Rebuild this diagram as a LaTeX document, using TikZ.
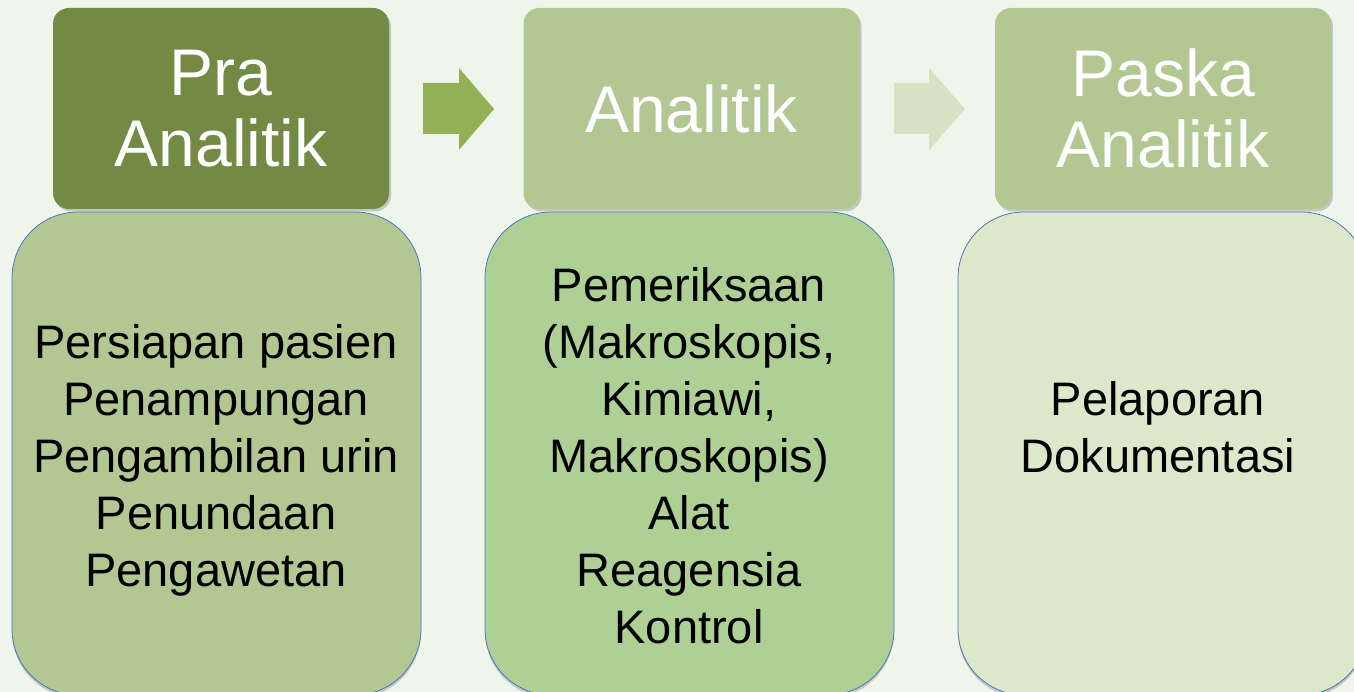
\documentclass[tikz,border=0pt]{standalone}
\usepackage{fontspec}
\setmainfont{Liberation Sans}
\usetikzlibrary{shadows}
\definecolor{bgc}{HTML}{EFF5EB}
\definecolor{headdark}{HTML}{738A44}
\definecolor{headlight}{HTML}{B3C792}
\definecolor{bodyone}{HTML}{B3C792}
\definecolor{bodytwo}{HTML}{AFD095}
\definecolor{bodythree}{HTML}{DDE7C9}
\definecolor{arrowone}{HTML}{93B056}
\definecolor{arrowtwo}{HTML}{D7E2C5}
\definecolor{edgeblue}{HTML}{4472C4}
\begin{document}
\begin{tikzpicture}[x=1pt,y=-1pt,
  headbox/.style={rounded corners=16pt, minimum width=336pt, minimum height=201pt,
    inner sep=0pt, text=white, align=center, font=\fontsize{66}{71}\selectfont,
    drop shadow={shadow xshift=2pt, shadow yshift=-2.5pt, fill=black, opacity=0.18}},
  bodybox/.style={rounded corners=66pt, minimum width=409pt, minimum height=483pt,
    inner sep=0pt, draw=edgeblue, line width=0.75pt,
    drop shadow={shadow xshift=0pt, shadow yshift=-3pt, fill=black, opacity=0.18}},
  bodytext/.style={inner sep=0pt, align=center, text=black, font=\fontsize{47}{57}\selectfont},
  blockarrow/.style={draw=none}
]
\clip (0,0) rectangle (1354,692);
\fill[bgc] (0,0) rectangle (1354,692);

% lower boxes
\node[bodybox, fill=bodyone] (b1) at (216.5,453.5) {};
\node[bodybox, fill=bodytwo] (b2) at (689.5,453.5) {};
\node[bodybox, fill=bodythree] (b3) at (1162.5,453.5) {};

\node[bodytext] (t1) at (216,460) {Persiapan pasien\\Penampungan\\Pengambilan urin\\Penundaan\\Pengawetan};
\node[bodytext] (t2) at (689,456) {Pemeriksaan\\(Makroskopis,\\Kimiawi,\\Makroskopis)\\Alat\\Reagensia\\Kontrol};
\node[bodytext] (t3) at (1158,427) {Pelaporan\\Dokumentasi};

% upper boxes
\node[headbox, fill=headdark] (h1) at (221,108.5) {Pra\\Analitik};
\node[headbox, fill=headlight] (h2) at (691.5,108.5) {Analitik};
\node[headbox, fill=headlight] (h3) at (1163,108.5) {Paska\\Analitik};

% block arrows
\fill[arrowone] (423,83) -- (459,83) -- (459,68) -- (494,109) -- (459,150) -- (459,134) -- (423,134) -- cycle;
\fill[arrowtwo] (894,83) -- (929,83) -- (929,68) -- (965,109) -- (929,150) -- (929,134) -- (894,134) -- cycle;
\end{tikzpicture}
\end{document}
